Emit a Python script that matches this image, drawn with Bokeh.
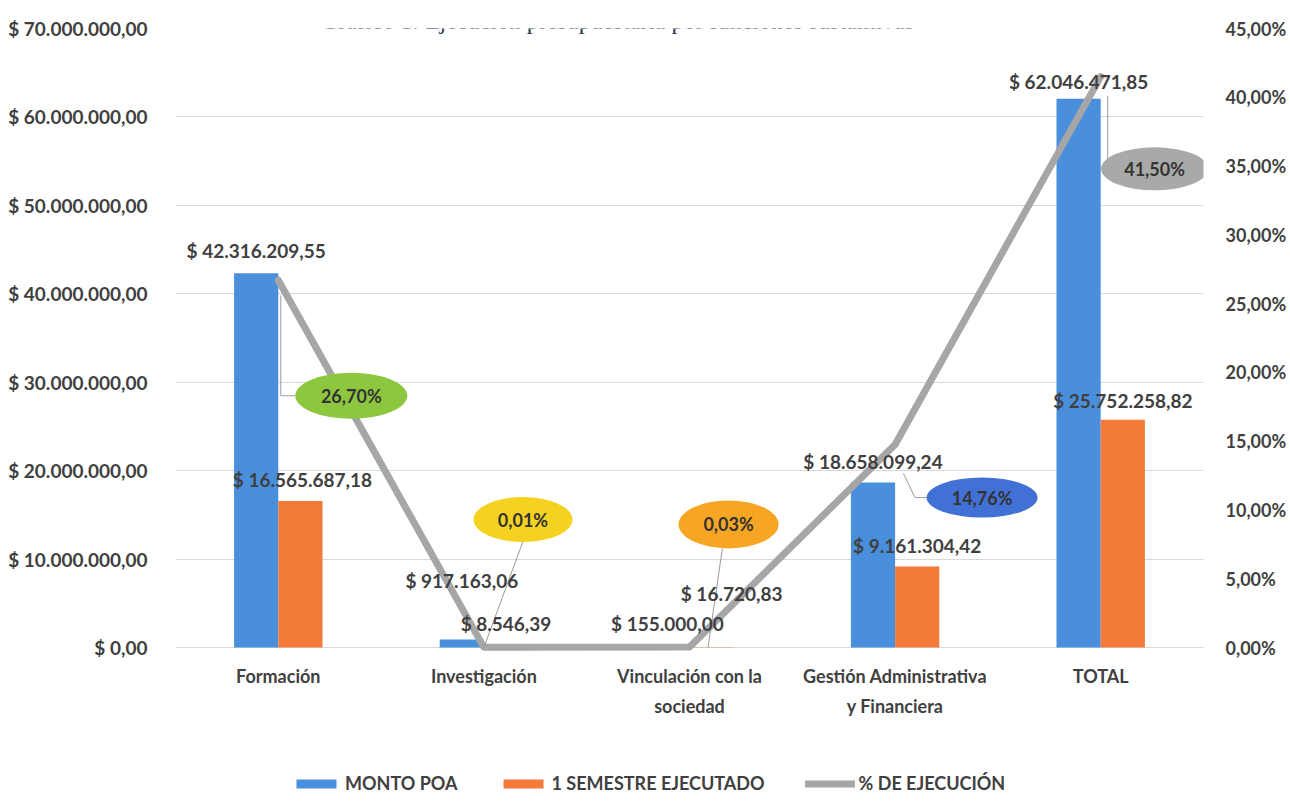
from bokeh.plotting import figure
from bokeh.models import (ColumnDataSource, FactorRange, Range1d, LinearAxis,
                          FixedTicker, Legend, LegendItem, Label)
from bokeh.transform import dodge
from bokeh.core.properties import value
from bokeh.embed import file_html
from bokeh.resources import INLINE

# ---------------- data ----------------
title_text = "Gráfico 1: Ejecución presupuestaria por funciones sustantivas"
categories = ["Formación", "Investigación", "Vinculación con la sociedad",
              "Gestión Administrativa y Financiera", "TOTAL"]
category_labels = ["Formación", "Investigación", "Vinculación con la\nsociedad",
                   "Gestión Administrativa\ny Financiera", "TOTAL"]
monto_poa = [42316209.55, 917163.06, 155000.00, 18658099.24, 62046471.85]
ejecutado = [16565687.18, 8546.39, 16720.83, 9161304.42, 25752258.82]
pct_ejecucion = [26.70, 0.01, 0.03, 14.76, 41.50]
series_names = ["MONTO POA", "1 SEMESTRE EJECUTADO", "% DE EJECUCIÓN"]
left_ticks = [0, 10000000, 20000000, 30000000, 40000000, 50000000, 60000000, 70000000]
left_tick_labels = ["$ 0,00", "$ 10.000.000,00", "$ 20.000.000,00", "$ 30.000.000,00",
                    "$ 40.000.000,00", "$ 50.000.000,00", "$ 60.000.000,00", "$ 70.000.000,00"]
right_ticks = [0, 5, 10, 15, 20, 25, 30, 35, 40, 45]
right_tick_labels = ["0,00%", "5,00%", "10,00%", "15,00%", "20,00%", "25,00%",
                     "30,00%", "35,00%", "40,00%", "45,00%"]
left_max = 70000000
right_max = 45

# ---------------- styling / label placement (not data) ----------------
BLUE = "#4a8fdc"
ORANGE = "#f47a3a"
GREY_LINE = "#a6a6a6"
TXT = "#404040"
FONT = "Lato"
callout_colors = ["#8dc63f", "#f5d21f", "#f6a623", "#4271d6", "#a9a9a9"]
blue_lbl_dy = [-23, -59, -23, -21, -17]     # px offset of value labels
orange_lbl_dy = [-22, -24, -54, -21, -19]
orange_lbl_dx = [2, 0, 20, 0, 0]
callout_dx = [0.355, 0.19, 0.19, 0.423, 0.262]    # category units from center
callout_y = [18.3, 9.3, 8.95, 10.9, 34.8]          # position on % axis
callout_w = [112, 99, 100, 111, 107]
callout_h = [46, 45, 48, 40, 43]
leader_pts = [
    [(0.012, 25.6), (0.012, 18.3), (0.083, 18.3)],
    [(0.0, 0.0), (0.19, 7.7)],
    [(0.09, 0.0), (0.16, 7.2)],
    [(0.04, 12.65), (0.097, 10.9), (0.156, 10.9)],
    [(0.034, 40.1), (0.034, 34.8), (0.12, 34.8)],
]

W, H = 1290, 809
BORDER_L, BORDER_R, BORDER_T, BORDER_B = 175, 87, 28, 0
ZERO_FROM_TOP = 619          # px from frame top to the zero line
frame_h = H - BORDER_T - BORDER_B
below_frac = (frame_h - ZERO_FROM_TOP) / ZERO_FROM_TOP


def money(v):
    s = f"{v:,.2f}".replace(",", "X").replace(".", ",").replace("X", ".")
    return "$ " + s


def pct(v):
    return f"{v:.2f}".replace(".", ",") + "%"


src = ColumnDataSource(dict(
    cat=categories, monto=monto_poa, ejec=ejecutado, pct=pct_ejecucion,
    monto_txt=[money(v) for v in monto_poa],
    ejec_txt=[money(v) for v in ejecutado],
    bdy=blue_lbl_dy, ody=orange_lbl_dy, odx=orange_lbl_dx,
    lbl=category_labels, zero=[0] * len(categories),
))

p = figure(width=W, height=H, x_range=FactorRange(*categories),
           y_range=Range1d(-left_max * below_frac, left_max), output_backend="svg",
           toolbar_location=None, x_axis_location=None,
           min_border_left=BORDER_L, min_border_right=BORDER_R,
           min_border_top=BORDER_T, min_border_bottom=BORDER_B)
p.extra_y_ranges = {"pct": Range1d(-right_max * below_frac, right_max)}
p.outline_line_color = None
p.background_fill_color = "white"
p.border_fill_color = "white"

# axes
p.yaxis.ticker = FixedTicker(ticks=left_ticks)
p.yaxis.major_label_overrides = dict(zip(left_ticks, left_tick_labels))
ax = p.yaxis[0]
ax.axis_line_color = None
ax.major_tick_line_color = None
ax.minor_tick_line_color = None
ax.major_label_text_font = FONT
ax.major_label_text_font_style = "bold"
ax.major_label_text_font_size = "19px"
ax.major_label_text_color = TXT
ax.major_label_standoff = 22

rax = LinearAxis(y_range_name="pct", ticker=FixedTicker(ticks=right_ticks),
                 major_label_overrides=dict(zip(right_ticks, right_tick_labels)))
rax.axis_line_color = None
rax.major_tick_line_color = None
rax.minor_tick_line_color = None
rax.major_label_text_font = FONT
rax.major_label_text_font_style = "bold"
rax.major_label_text_font_size = "18px"
rax.major_label_text_color = TXT
rax.major_label_standoff = 16
p.add_layout(rax, "right")

p.xgrid.visible = False
p.ygrid.ticker = FixedTicker(ticks=left_ticks)
p.ygrid.grid_line_color = "#d9d9d9"
p.ygrid.grid_line_width = 1

# bars
bw = 0.215
r_blue = p.vbar(x=dodge("cat", -bw / 2, range=p.x_range), top="monto", width=bw,
                source=src, fill_color=BLUE, line_color=None)
r_orange = p.vbar(x=dodge("cat", bw / 2, range=p.x_range), top="ejec", width=bw,
                  source=src, fill_color=ORANGE, line_color=None)

# line
r_line = p.line(x="cat", y="pct", source=src, y_range_name="pct",
                line_color=GREY_LINE, line_width=7, line_join="round", line_cap="round")

# leader lines
lx, ly = [], []
for i, pts in enumerate(leader_pts):
    lx.append([i + 0.5 + dx for dx, _ in pts])
    ly.append([v for _, v in pts])
p.multi_line(xs=lx, ys=ly, y_range_name="pct", line_color="#9a9a9a", line_width=1)

# callout ellipses
csrc = ColumnDataSource(dict(
    x=[i + 0.5 + dx for i, dx in enumerate(callout_dx)], y=callout_y,
    w=callout_w, h=callout_h, c=callout_colors,
    t=[pct(v) for v in pct_ejecucion],
))
p.ellipse(x="x", y="y", width="w", height="h", width_units="screen",
          height_units="screen", fill_color="c", line_color=None,
          source=csrc, y_range_name="pct")
p.text(x="x", y="y", text="t", source=csrc, y_range_name="pct",
       text_font=value(FONT), text_font_style="bold", text_font_size="18px",
       text_color="#333333", text_align="center", text_baseline="middle")

# value labels
p.text(x=dodge("cat", -bw / 2, range=p.x_range), y="monto", text="monto_txt",
       y_offset="bdy", source=src, text_font=value(FONT), text_font_style="bold",
       text_font_size="19px", text_color=TXT, text_align="center",
       text_baseline="middle")
p.text(x=dodge("cat", bw / 2, range=p.x_range), y="ejec", text="ejec_txt",
       x_offset="odx", y_offset="ody", source=src, text_font=value(FONT),
       text_font_style="bold", text_font_size="19px", text_color=TXT,
       text_align="center", text_baseline="middle")

# category labels (drawn under the zero line)
p.text(x="cat", y="zero", text="lbl", source=src, y_offset=17,
       text_font=value(FONT), text_font_style="bold", text_font_size="18px",
       text_color=TXT, text_align="center", text_baseline="top",
       text_line_height=1.4)

# legend
legend = Legend(items=[
    LegendItem(label=series_names[0], renderers=[r_blue]),
    LegendItem(label=series_names[1], renderers=[r_orange]),
    LegendItem(label=series_names[2], renderers=[r_line]),
], orientation="horizontal", location=(116, 15))
legend.padding = 0
legend.margin = 0
legend.spacing = 40
legend.glyph_width = 50
legend.glyph_height = 11
legend.label_standoff = 4
legend.label_height = 22
legend.label_text_font = FONT
legend.label_text_font_style = "bold"
legend.label_text_font_size = "18px"
legend.label_text_color = TXT
legend.border_line_color = None
legend.background_fill_alpha = 0
p.add_layout(legend, "center")

# title (cut off at the top of the source scan; kept fully visible here)
p.add_layout(Label(x=617 - BORDER_L, y=frame_h + 8, x_units="screen", y_units="screen",
                   text=title_text, text_align="center", text_baseline="alphabetic",
                   text_font="Liberation Serif", text_font_size="24px",
                   text_color="#2a3550"))

open("out.html", "w").write(file_html(p, INLINE))
